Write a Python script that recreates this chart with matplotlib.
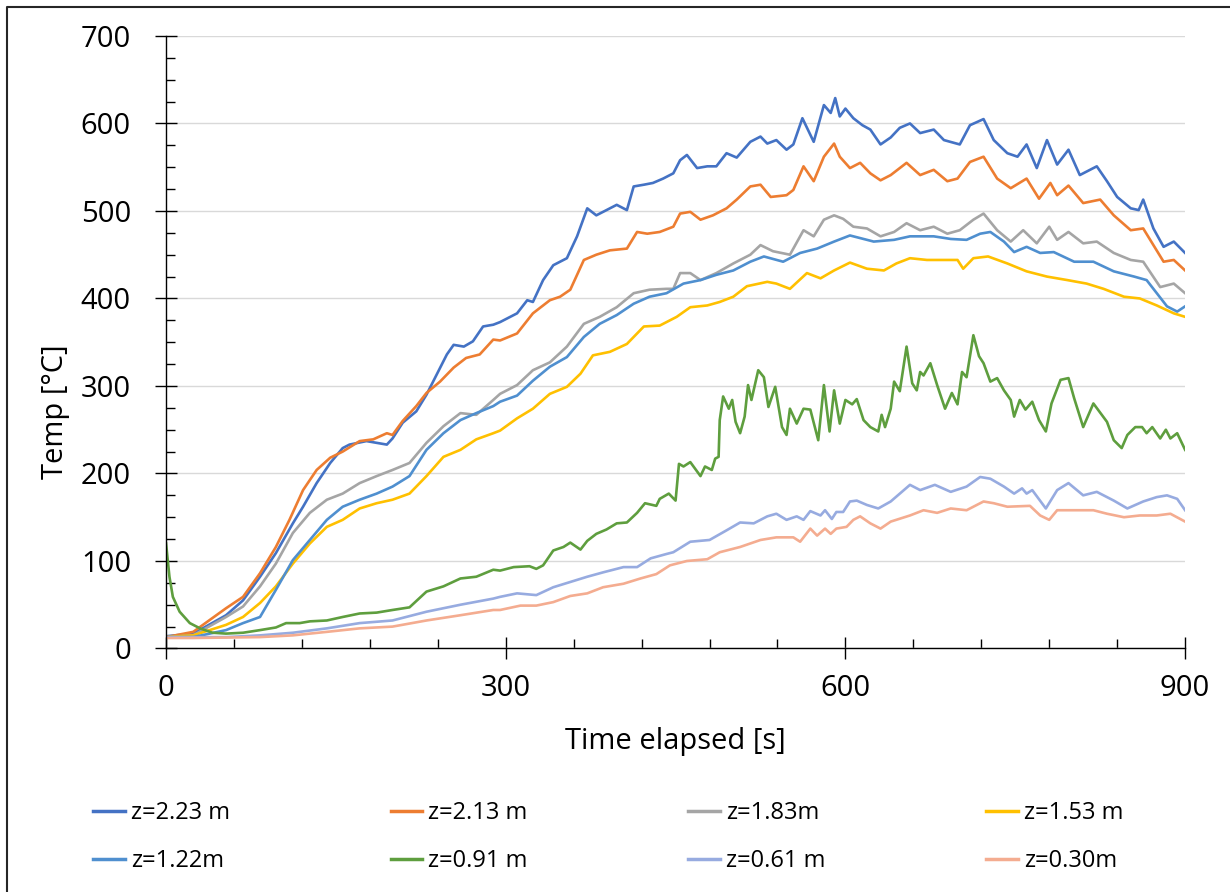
import matplotlib.pyplot as plt
from matplotlib.ticker import MultipleLocator
from matplotlib.lines import Line2D

plt.rcParams['font.family'] = ['Open Sans', 'DejaVu Sans']

# thermocouple readings (time [s], temp [C])
t_223 = [0, 24, 53, 68, 83, 97, 112, 121, 133, 145, 156, 162, 177, 186, 195, 200, 209, 221, 230, 239,
         248, 254, 263, 271, 280, 289, 295, 310, 319, 324, 333, 342, 354, 363, 372, 380, 389, 398, 407,
         413, 422, 430, 439, 448, 454, 460, 469, 478, 486, 495, 504, 516, 525, 531, 539, 548, 554, 562,
         572, 581, 587, 591, 595, 600, 607, 615, 622, 631, 640, 648, 657, 666, 678, 687, 701, 710, 722,
         731, 743, 752, 760, 769, 778, 787, 797, 807, 822, 831, 840, 852, 859, 863, 872, 881, 890, 900]
T_223 = [14, 17, 38, 55, 82, 109, 143, 162, 189, 212, 229, 233, 237, 235, 233, 240, 258, 271, 290, 313,
         336, 347, 345, 351, 368, 370, 373, 383, 398, 396, 421, 438, 446, 471, 503, 495, 501, 507, 501,
         528, 530, 532, 537, 543, 558, 564, 549, 551, 551, 566, 561, 579, 585, 577, 581, 570, 576, 606,
         579, 621, 612, 629, 608, 617, 606, 598, 593, 576, 584, 595, 600, 589, 593, 581, 576, 598, 605,
         581, 566, 562, 576, 549, 581, 553, 570, 541, 551, 534, 516, 503, 501, 513, 480, 459, 465, 452]

t_213 = [0, 24, 53, 68, 83, 97, 109, 121, 133, 145, 156, 171, 183, 195, 200, 209, 221, 230, 242, 254,
         265, 277, 289, 295, 310, 324, 339, 348, 357, 369, 380, 392, 407, 416, 425, 436, 448, 454, 463,
         472, 483, 495, 504, 516, 525, 534, 548, 554, 563, 572, 581, 590, 595, 604, 613, 622, 631, 640,
         654, 666, 678, 690, 699, 710, 722, 734, 746, 760, 771, 781, 787, 797, 810, 825, 837, 852, 863,
         881, 890, 900]
T_213 = [13, 19, 46, 59, 86, 116, 147, 181, 204, 218, 225, 237, 239, 246, 244, 260, 277, 292, 305, 321,
         332, 336, 353, 352, 360, 383, 398, 402, 410, 444, 450, 455, 457, 476, 474, 476, 482, 497, 499,
         490, 495, 503, 513, 528, 530, 516, 518, 524, 551, 534, 562, 577, 562, 549, 555, 543, 535, 541,
         555, 541, 547, 534, 537, 556, 562, 537, 526, 537, 514, 532, 518, 529, 509, 513, 495, 478, 480,
         442, 444, 432]

t_183 = [0, 24, 53, 68, 83, 97, 112, 127, 142, 156, 171, 186, 200, 215, 230, 245, 260, 274, 289, 295,
         310, 324, 339, 354, 369, 383, 398, 413, 427, 442, 448, 454, 463, 472, 486, 501, 516, 525, 536,
         551, 563, 572, 581, 590, 598, 607, 619, 631, 643, 654, 666, 678, 690, 701, 713, 722, 734, 746,
         757, 769, 780, 787, 797, 810, 822, 837, 852, 863, 878, 890, 900]
T_183 = [13, 15, 36, 48, 71, 97, 132, 155, 170, 177, 189, 197, 204, 212, 235, 254, 269, 267, 284, 291,
         301, 318, 327, 345, 371, 379, 390, 406, 410, 411, 411, 429, 429, 421, 429, 440, 450, 461, 454,
         450, 478, 471, 490, 495, 491, 482, 480, 471, 476, 486, 478, 482, 474, 478, 490, 497, 478, 465,
         478, 463, 482, 467, 476, 463, 465, 452, 444, 442, 413, 417, 406]

t_153 = [0, 24, 53, 68, 83, 97, 112, 127, 142, 156, 171, 186, 200, 215, 230, 245, 260, 274, 289, 295,
         310, 324, 339, 354, 366, 377, 392, 407, 422, 436, 451, 463, 478, 489, 501, 513, 531, 539, 551,
         566, 578, 590, 604, 619, 634, 645, 657, 672, 687, 699, 704, 713, 726, 743, 760, 778, 796, 813,
         828, 846, 860, 875, 890, 900]
T_153 = [13, 15, 27, 36, 52, 71, 97, 120, 139, 147, 160, 166, 170, 177, 197, 219, 227, 239, 246, 249,
         263, 274, 291, 299, 314, 335, 339, 348, 368, 369, 379, 390, 392, 396, 402, 414, 419, 417, 411,
         429, 423, 432, 441, 434, 432, 440, 446, 444, 444, 444, 434, 446, 448, 440, 431, 425, 421, 417,
         411, 402, 400, 392, 383, 379]

t_122 = [0, 24, 53, 68, 83, 97, 112, 127, 142, 156, 171, 186, 200, 215, 230, 245, 260, 274, 289, 295,
         310, 324, 339, 354, 369, 383, 398, 413, 427, 442, 457, 472, 486, 501, 516, 528, 545, 560, 575,
         590, 604, 625, 643, 657, 678, 693, 707, 719, 728, 740, 749, 760, 772, 784, 802, 819, 837, 855,
         866, 875, 884, 893, 900]
T_122 = [13, 13, 21, 29, 36, 67, 101, 124, 147, 162, 170, 177, 185, 197, 227, 246, 261, 269, 277, 282,
         289, 306, 322, 333, 356, 371, 381, 394, 402, 406, 417, 421, 427, 432, 442, 448, 442, 452, 457,
         465, 472, 465, 467, 471, 471, 468, 467, 474, 476, 465, 453, 459, 452, 453, 442, 442, 431, 425,
         421, 406, 391, 385, 391]

t_091 = [0, 3, 6, 12, 21, 30, 41, 53, 68, 83, 97, 106, 118, 127, 142, 156, 171, 186, 200, 215,
         230, 245, 260, 274, 289, 295, 307, 321, 327, 333, 342, 351, 357, 366, 372, 380, 389, 398, 407,
         416, 423, 433, 436, 444, 450, 453, 457, 463, 472, 476, 482, 485, 488, 489, 492, 497, 500, 503,
         507, 511, 514, 517, 523, 528, 532, 538, 544, 548, 551, 557, 563, 569, 576, 581, 586, 590, 595,
         600, 606, 610, 616, 622, 629, 632, 635, 640, 643, 648, 654, 659, 663, 666, 669, 675, 681, 688,
         694, 699, 703, 707, 713, 718, 722, 728, 734, 740, 746, 749, 754, 759, 765, 771, 777, 782, 790,
         797, 802, 810, 819, 831, 837, 844, 849, 856, 862, 866, 871, 878, 883, 887, 893, 900]
T_091 = [120, 82, 59, 42, 29, 23, 18, 17, 18, 21, 24, 29, 29, 31, 32, 36, 40, 41, 44, 47,
         65, 71, 80, 82, 90, 89, 93, 94, 91, 95, 112, 116, 121, 113, 123, 131, 136, 143, 144,
         155, 166, 163, 171, 177, 169, 211, 208, 213, 197, 208, 204, 217, 219, 261, 288, 274, 284, 259,
         246, 265, 301, 284, 318, 310, 276, 299, 253, 244, 274, 257, 274, 273, 238, 301, 248, 295, 257,
         284, 279, 285, 261, 253, 248, 267, 253, 274, 305, 294, 345, 303, 295, 316, 312, 326, 301, 274,
         292, 279, 316, 310, 358, 334, 326, 305, 309, 295, 284, 265, 284, 273, 282, 261, 248, 280, 307,
         309, 286, 253, 280, 259, 238, 229, 244, 253, 253, 246, 253, 240, 250, 240, 246, 227]

t_061 = [0, 24, 53, 83, 112, 142, 171, 200, 230, 260, 289, 295, 310, 327, 342, 357, 372, 386, 404,
         416, 428, 442, 448, 463, 480, 495, 507, 519, 531, 539, 548, 557, 563, 569, 578, 582, 588, 592,
         598, 604, 610, 619, 629, 640, 657, 666, 679, 693, 707, 719, 728, 740, 749, 756, 760, 765, 777,
         787, 797, 810, 822, 837, 849, 863, 875, 884, 893, 900]
T_061 = [13, 13, 13, 15, 18, 23, 29, 32, 42, 50, 57, 59, 63, 61, 70, 76, 82, 87, 93,
         93, 103, 108, 110, 122, 124, 135, 144, 143, 151, 154, 147, 151, 147, 157, 152, 158, 148, 156,
         156, 168, 169, 164, 160, 168, 187, 181, 187, 179, 185, 196, 194, 185, 177, 183, 177, 181, 160,
         181, 189, 175, 179, 169, 160, 168, 173, 175, 171, 158]

t_030 = [0, 24, 83, 112, 142, 171, 200, 230, 260, 289, 295, 313, 327, 342, 357, 372, 386, 404, 419,
         433, 445, 460, 478, 489, 507, 525, 539, 554, 560, 569, 575, 582, 587, 592, 601, 607, 613, 622,
         631, 640, 657, 669, 681, 693, 707, 722, 731, 743, 763, 772, 780, 787, 802, 819, 831, 846, 860,
         875, 887, 900]
T_030 = [12, 12, 13, 15, 19, 23, 25, 32, 38, 44, 44, 49, 49, 53, 60, 63, 70, 74, 80,
         85, 95, 100, 102, 110, 116, 124, 127, 127, 122, 137, 129, 137, 131, 137, 139, 147, 151, 143,
         137, 145, 152, 158, 155, 160, 158, 168, 166, 162, 163, 152, 147, 158, 158, 158, 154, 150, 152,
         152, 154, 145]

series = [(t_223, T_223), (t_213, T_213), (t_183, T_183), (t_153, T_153),
          (t_122, T_122), (t_091, T_091), (t_061, T_061), (t_030, T_030)]
labels = ['z=2.23 m', 'z=2.13 m', 'z=1.83m', 'z=1.53 m',
          'z=1.22m', 'z=0.91 m', 'z=0.61 m', 'z=0.30m']
colors = ['#4472C4', '#ED7D31', '#A5A5A5', '#FFC000',
          '#4F8FCF', '#5E9E3E', '#97ABE0', '#F4AC90']

fig = plt.figure(figsize=(12.3, 8.92), dpi=100)
ax = fig.add_axes([0.135, 0.273, 0.8285, 0.6867])

for (t, T), lab, c in zip(series, labels, colors):
    ax.plot(t, T, color=c, lw=1.9, label=lab)

ax.set_xlim(0, 900)
ax.set_ylim(0, 700)
ax.xaxis.set_major_locator(MultipleLocator(300))
ax.xaxis.set_minor_locator(MultipleLocator(60))
ax.yaxis.set_major_locator(MultipleLocator(100))
ax.yaxis.set_minor_locator(MultipleLocator(25))
ax.grid(axis='y', which='major', color='#D9D9D9', lw=1.0)
ax.set_axisbelow(True)

for s in ['top', 'right']:
    ax.spines[s].set_visible(False)
for s in ['left', 'bottom']:
    ax.spines[s].set_linewidth(1.0)
    ax.spines[s].set_color('black')

ax.tick_params(which='major', direction='inout', length=16.5, width=1.0, labelsize=21)
ax.tick_params(which='minor', direction='in', length=6.5, width=1.0)
ax.tick_params(axis='y', which='major', pad=17)
ax.tick_params(axis='x', which='major', pad=10)

fig.text(55 / 1230, 1 - 412 / 892, 'Temp [°C]', rotation=90, ha='center', va='center', fontsize=21)
fig.text(675 / 1230, 1 - 742 / 892, 'Time elapsed [s]', ha='center', va='center', fontsize=21)

# legend: 4 columns, filled row by row like the original
order = [0, 4, 1, 5, 2, 6, 3, 7]
h = [Line2D([], [], color=colors[i], lw=2.5) for i in order]
fig.legend(h, [labels[i] for i in order], ncol=4, loc='center',
           bbox_to_anchor=(0.4945, 1 - 837 / 892), frameon=False, fontsize=17,
           handlelength=1.35, handletextpad=0.25, columnspacing=6.8, labelspacing=1.0)

# chart frame: only the top and left edges are inside the picture
fig.add_artist(Line2D([6.5 / 1230, 6.5 / 1230, 1], [0, 1 - 6.5 / 892, 1 - 6.5 / 892],
                      transform=fig.transFigure, color='#262626', lw=1.5))

fig.savefig('out.png', dpi=100)
